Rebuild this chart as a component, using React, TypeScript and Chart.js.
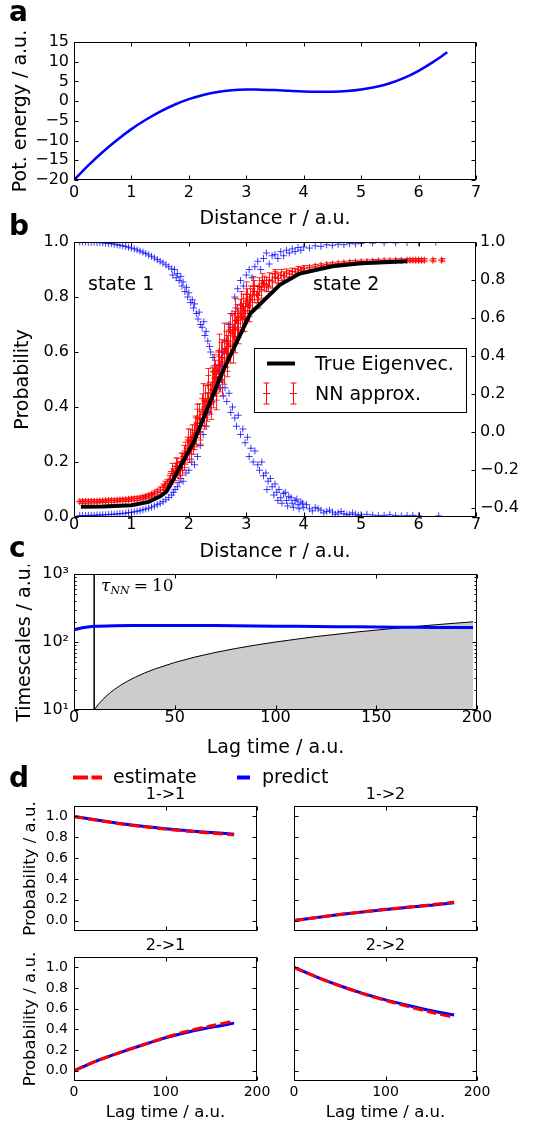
import React, { useEffect, useRef } from 'react';
import { Chart, registerables } from 'chart.js';

Chart.register(...registerables);

const FONT = 'DejaVu Sans';
const BLUE = '#0000ff';
const RED = '#ff0000';
const MINUS = '\u2212';

// ---------------- panel a : potential ----------------
const POT_R = [0, 0.25, 0.5, 0.75, 1, 1.25, 1.5, 1.75, 2, 2.25, 2.5, 2.75, 3, 3.25, 3.5, 3.75, 4, 4.25, 4.5, 4.75, 5, 5.25, 5.5, 5.75, 6, 6.25, 6.5];
const POT_E = [-20, -16.3, -12.9, -9.85, -7.1, -4.73, -2.66, -0.91, 0.5, 1.58, 2.34, 2.78, 2.95, 2.9, 2.8, 2.62, 2.47, 2.38, 2.37, 2.55, 2.95, 3.6, 4.55, 5.9, 7.7, 9.9, 12.4];
const A_XTICKS = [0, 1, 2, 3, 4, 5, 6, 7];
const A_YTICKS = [-20, -15, -10, -5, 0, 5, 10, 15];

// ---------------- panel b : eigenvector ----------------
const B_XTICKS = [0, 1, 2, 3, 4, 5, 6, 7];
const B_YTICKS = [0, 0.2, 0.4, 0.6, 0.8, 1.0];
const B_Y2TICKS = [-0.4, -0.2, 0, 0.2, 0.4, 0.6, 0.8, 1.0];
const TRUE_R = [0.12, 0.5, 1.0, 1.3, 1.5, 1.61, 2.08, 2.57, 3.07, 3.59, 3.93, 4.5, 5.0, 5.8];
const TRUE_P = [0.037, 0.038, 0.043, 0.055, 0.075, 0.092, 0.27, 0.52, 0.74, 0.845, 0.885, 0.912, 0.923, 0.93];
// NN approx: [r, p, err]
const NN_PTS = [
  [0.10, 0.056, 0.006], [0.15, 0.056, 0.006], [0.20, 0.056, 0.006], [0.25, 0.056, 0.006], [0.30, 0.057, 0.006],
  [0.35, 0.057, 0.006], [0.40, 0.057, 0.006], [0.45, 0.058, 0.006], [0.50, 0.058, 0.006], [0.55, 0.059, 0.006],
  [0.60, 0.059, 0.006], [0.65, 0.060, 0.006], [0.70, 0.060, 0.006], [0.75, 0.061, 0.006], [0.80, 0.062, 0.006],
  [0.85, 0.062, 0.006], [0.90, 0.063, 0.006], [0.95, 0.064, 0.006], [1.00, 0.065, 0.007], [1.05, 0.066, 0.007],
  [1.10, 0.067, 0.007], [1.15, 0.069, 0.007], [1.20, 0.071, 0.007], [1.25, 0.074, 0.008], [1.30, 0.077, 0.008],
  [1.35, 0.081, 0.008], [1.40, 0.086, 0.009], [1.45, 0.092, 0.009], [1.50, 0.099, 0.010],
  [1.55, 0.108, 0.012], [1.58, 0.115, 0.015], [1.62, 0.122, 0.015], [1.65, 0.130, 0.020], [1.68, 0.138, 0.020],
  [1.72, 0.150, 0.026], [1.75, 0.158, 0.026], [1.78, 0.170, 0.026], [1.80, 0.182, 0.032], [1.83, 0.176, 0.026],
  [1.86, 0.200, 0.032], [1.88, 0.192, 0.040], [1.91, 0.220, 0.040], [1.94, 0.232, 0.040], [1.97, 0.250, 0.040],
  [2.00, 0.238, 0.040], [2.02, 0.275, 0.045], [2.05, 0.290, 0.045], [2.07, 0.268, 0.040], [2.10, 0.315, 0.052],
  [2.12, 0.300, 0.045], [2.15, 0.340, 0.052], [2.18, 0.360, 0.052], [2.20, 0.332, 0.052], [2.23, 0.390, 0.058],
  [2.26, 0.372, 0.052], [2.28, 0.420, 0.058], [2.31, 0.400, 0.052], [2.34, 0.450, 0.065], [2.37, 0.432, 0.058],
  [2.40, 0.480, 0.065], [2.42, 0.462, 0.065], [2.45, 0.505, 0.065], [2.48, 0.490, 0.065], [2.50, 0.535, 0.070],
  [2.53, 0.520, 0.065], [2.56, 0.565, 0.070], [2.58, 0.580, 0.065], [2.61, 0.548, 0.065], [2.64, 0.610, 0.065],
  [2.66, 0.595, 0.065], [2.69, 0.640, 0.065], [2.72, 0.625, 0.065], [2.75, 0.670, 0.065], [2.78, 0.690, 0.058],
  [2.80, 0.655, 0.058], [2.83, 0.715, 0.058], [2.86, 0.705, 0.052], [2.89, 0.740, 0.052], [2.92, 0.725, 0.052],
  [2.95, 0.765, 0.045], [2.98, 0.750, 0.045], [3.01, 0.785, 0.045], [3.04, 0.770, 0.040], [3.07, 0.800, 0.040],
  [3.10, 0.790, 0.040], [3.14, 0.820, 0.040], [3.18, 0.810, 0.032], [3.22, 0.838, 0.032], [3.26, 0.828, 0.032],
  [3.30, 0.850, 0.026], [3.35, 0.845, 0.026], [3.40, 0.862, 0.026], [3.45, 0.858, 0.026], [3.50, 0.872, 0.020],
  [3.55, 0.868, 0.020], [3.60, 0.880, 0.020], [3.65, 0.877, 0.015], [3.70, 0.887, 0.015], [3.75, 0.884, 0.012],
  [3.80, 0.893, 0.012], [3.85, 0.891, 0.012], [3.90, 0.899, 0.012], [3.95, 0.898, 0.010], [4.00, 0.904, 0.010],
  [1.70, 0.165, 0.030], [1.77, 0.185, 0.030], [1.85, 0.170, 0.030], [1.92, 0.205, 0.035], [1.99, 0.280, 0.040],
  [2.03, 0.250, 0.040], [2.09, 0.290, 0.045], [2.14, 0.360, 0.050], [2.19, 0.310, 0.045], [2.24, 0.430, 0.055],
  [2.29, 0.380, 0.050], [2.33, 0.480, 0.060], [2.38, 0.410, 0.055], [2.43, 0.530, 0.060], [2.47, 0.450, 0.060],
  [2.52, 0.600, 0.065], [2.57, 0.500, 0.060], [2.62, 0.640, 0.065], [2.67, 0.570, 0.060], [2.71, 0.680, 0.060],
  [2.76, 0.620, 0.060], [2.81, 0.740, 0.055], [2.85, 0.680, 0.050], [2.90, 0.770, 0.050], [2.96, 0.720, 0.045],
  [3.00, 0.810, 0.045], [3.05, 0.750, 0.040], [3.12, 0.840, 0.035], [3.20, 0.790, 0.030], [3.28, 0.860, 0.025],
  [3.38, 0.840, 0.020], [3.50, 0.885, 0.015],
  [4.10, 0.908, 0.006], [4.20, 0.912, 0.006], [4.30, 0.915, 0.006], [4.40, 0.918, 0.006], [4.50, 0.920, 0.006],
  [4.60, 0.922, 0.006], [4.70, 0.924, 0.006], [4.80, 0.926, 0.006], [4.90, 0.927, 0.006], [5.00, 0.928, 0.006],
  [5.10, 0.929, 0.006], [5.20, 0.930, 0.006], [5.30, 0.931, 0.006], [5.40, 0.932, 0.006], [5.50, 0.932, 0.006],
  [5.60, 0.933, 0.006], [5.70, 0.933, 0.006], [5.80, 0.934, 0.006], [5.85, 0.934, 0.006], [5.90, 0.934, 0.006],
  [5.95, 0.934, 0.006], [6.00, 0.934, 0.006], [6.05, 0.934, 0.006], [6.10, 0.934, 0.006], [6.25, 0.934, 0.006],
  [6.40, 0.934, 0.006],
];
// membership of state 1: [r, p]
const S1_PTS = [
  [0.10, 1.000], [0.15, 1.000], [0.20, 1.000], [0.25, 0.999], [0.30, 0.999], [0.35, 0.999], [0.40, 0.998], [0.45, 0.998],
  [0.50, 0.997], [0.55, 0.996], [0.60, 0.995], [0.65, 0.994], [0.70, 0.992], [0.75, 0.990], [0.80, 0.988], [0.85, 0.986],
  [0.90, 0.984], [0.95, 0.981], [1.00, 0.978], [1.05, 0.975], [1.10, 0.971], [1.15, 0.967], [1.20, 0.963], [1.25, 0.958],
  [1.30, 0.953], [1.35, 0.948], [1.40, 0.942], [1.45, 0.936], [1.50, 0.930], [1.55, 0.924], [1.60, 0.917], [1.65, 0.910],
  [1.70, 0.902], [1.72, 0.880], [1.75, 0.900], [1.78, 0.870], [1.80, 0.885], [1.83, 0.860], [1.86, 0.875], [1.88, 0.840],
  [1.90, 0.855], [1.93, 0.820], [1.96, 0.835], [1.98, 0.800], [2.00, 0.815], [2.03, 0.780], [2.06, 0.790], [2.08, 0.760],
  [2.10, 0.775], [2.13, 0.740], [2.16, 0.720], [2.18, 0.745], [2.20, 0.700], [2.23, 0.690], [2.26, 0.710], [2.28, 0.660],
  [2.30, 0.675], [2.33, 0.640], [2.36, 0.620], [2.38, 0.600], [2.42, 0.580], [2.45, 0.550], [2.48, 0.520], [2.50, 0.500],
  [2.53, 0.530], [2.55, 0.470], [2.58, 0.490], [2.60, 0.440], [2.63, 0.470], [2.66, 0.420], [2.70, 0.450], [2.73, 0.380],
  [2.76, 0.400], [2.80, 0.360], [2.83, 0.330], [2.86, 0.370], [2.90, 0.300], [2.94, 0.320], [2.98, 0.270], [3.02, 0.290],
  [3.05, 0.220], [3.08, 0.250], [3.12, 0.200], [3.15, 0.240], [3.20, 0.190], [3.23, 0.170], [3.27, 0.200], [3.30, 0.150],
  [3.34, 0.160], [3.38, 0.130], [3.42, 0.140], [3.45, 0.110], [3.50, 0.120], [3.53, 0.090], [3.57, 0.100], [3.60, 0.070],
  [3.65, 0.085], [3.70, 0.060], [3.74, 0.075], [3.80, 0.050], [3.85, 0.060], [3.90, 0.045], [3.95, 0.055], [4.00, 0.035],
  [4.05, 0.045], [4.10, 0.030], [4.20, 0.035], [4.30, 0.025], [4.40, 0.020], [4.50, 0.018], [4.60, 0.015], [4.70, 0.012],
  [4.80, 0.010], [4.90, 0.010], [5.00, 0.008], [5.20, 0.007], [5.40, 0.006], [5.60, 0.005], [5.80, 0.005], [6.00, 0.004],
  [6.35, 0.004], [3.36, 0.100], [3.48, 0.080], [3.55, 0.060], [3.62, 0.050], [3.68, 0.090], [3.72, 0.040], [3.78, 0.070],
  [3.82, 0.035], [3.88, 0.065], [3.92, 0.030], [3.98, 0.050], [4.15, 0.022], [4.25, 0.030], [4.35, 0.015], [4.45, 0.025],
  [4.55, 0.010], [4.65, 0.020], [4.75, 0.008], [4.85, 0.015], [4.95, 0.006], [5.10, 0.010], [5.30, 0.005], [5.50, 0.008],
  [5.70, 0.004], [5.90, 0.006],
];
// membership of state 2: [r, p]
const S2_PTS = [
  [0.10, 0.005], [0.15, 0.005], [0.20, 0.005], [0.25, 0.006], [0.30, 0.006], [0.35, 0.006], [0.40, 0.007], [0.45, 0.007],
  [0.50, 0.008], [0.55, 0.008], [0.60, 0.009], [0.65, 0.010], [0.70, 0.010], [0.75, 0.011], [0.80, 0.012], [0.85, 0.013],
  [0.90, 0.014], [0.95, 0.016], [1.00, 0.017], [1.05, 0.019], [1.10, 0.021], [1.15, 0.023], [1.20, 0.026], [1.25, 0.029],
  [1.30, 0.032], [1.35, 0.036], [1.40, 0.040], [1.45, 0.045], [1.50, 0.050], [1.55, 0.056], [1.60, 0.063], [1.65, 0.071],
  [1.70, 0.080], [1.73, 0.090], [1.76, 0.100], [1.80, 0.110], [1.83, 0.125], [1.86, 0.140], [1.90, 0.130], [1.95, 0.160],
  [2.00, 0.170], [2.05, 0.200], [2.10, 0.190], [2.15, 0.220], [2.20, 0.260], [2.25, 0.300], [2.30, 0.330], [2.35, 0.380],
  [2.40, 0.420], [2.45, 0.460], [2.50, 0.500], [2.55, 0.550], [2.60, 0.600], [2.65, 0.640], [2.70, 0.700], [2.75, 0.740],
  [2.80, 0.800], [2.82, 0.760], [2.85, 0.830], [2.90, 0.860], [2.95, 0.840], [3.00, 0.880], [3.05, 0.900], [3.10, 0.870],
  [3.15, 0.910], [3.20, 0.930], [3.25, 0.900], [3.30, 0.940], [3.35, 0.960], [3.40, 0.920], [3.45, 0.950], [3.50, 0.955],
  [3.55, 0.940], [3.60, 0.965], [3.65, 0.950], [3.70, 0.970], [3.75, 0.960], [3.80, 0.975], [3.85, 0.965], [3.90, 0.980],
  [3.95, 0.970], [4.00, 0.982], [4.10, 0.978], [4.20, 0.986], [4.30, 0.984], [4.40, 0.990], [4.50, 0.988], [4.60, 0.992],
  [4.70, 0.990], [4.80, 0.994], [4.90, 0.993], [5.00, 0.995], [5.20, 0.996], [5.40, 0.997], [5.60, 0.997], [5.80, 0.998],
  [6.00, 0.998], [6.30, 0.999],
];

// ---------------- panel c : implied timescales ----------------
const C_XTICKS = [0, 50, 100, 150, 200];
const C_YTICKS = [10, 20, 30, 40, 50, 60, 70, 80, 90, 100, 200, 300, 400, 500, 600, 700, 800, 900, 1000];
const C_YMINOR = [20, 30, 40, 50, 60, 70, 80, 90, 200, 300, 400, 500, 600, 700, 800, 900];
const C_YLABELS: Record<number, string> = { 10: '10\u00b9', 100: '10\u00b2', 1000: '10\u00b3' };
const ITS_LAG = [0, 5, 10, 20, 30, 40, 60, 80, 100, 120, 140, 160, 180, 198];
const ITS_TS = [152, 163, 170, 174, 175, 175, 175, 173, 171, 169, 167, 165, 164, 164];
const DIAG_LAG = [10, 11, 12, 13, 14, 16, 18, 20, 23, 26, 30, 35, 40, 50, 60, 70, 80, 90, 100, 120, 140, 160, 180, 198];
const DIAG_TS = [10, 11, 12, 13, 14, 16, 18, 20, 23, 26, 30, 35, 40, 50, 60, 70, 80, 90, 100, 120, 140, 160, 180, 198];
const TAU_NN = 10;

// ---------------- panel d : Chapman-Kolmogorov ----------------
const D_LAG = [0, 25, 50, 75, 100, 125, 150, 175];
const D_XTICKS = [0, 100, 200];
const D_YTICKS = [0, 0.2, 0.4, 0.6, 0.8, 1.0];
const CK11_EST = [1.0, 0.963, 0.93, 0.902, 0.878, 0.858, 0.84, 0.822];
const CK11_PRED = [1.0, 0.965, 0.933, 0.905, 0.882, 0.862, 0.845, 0.83];
const CK12_EST = [0.0, 0.03, 0.058, 0.084, 0.108, 0.13, 0.152, 0.178];
const CK12_PRED = [0.0, 0.03, 0.058, 0.083, 0.106, 0.127, 0.148, 0.17];
const CK21_EST = [0.0, 0.095, 0.175, 0.25, 0.322, 0.385, 0.435, 0.48];
const CK21_PRED = [0.0, 0.095, 0.174, 0.248, 0.318, 0.375, 0.42, 0.46];
const CK22_EST = [1.0, 0.905, 0.82, 0.745, 0.68, 0.62, 0.565, 0.515];
const CK22_PRED = [1.0, 0.905, 0.822, 0.748, 0.685, 0.63, 0.58, 0.538];

// ---------------- helpers ----------------
const fmt = (d: number) => (v: number) => (v < 0 ? MINUS : '') + Math.abs(v).toFixed(d);
const pts = (xs: number[], ys: number[]) => xs.map((x, i) => ({ x, y: ys[i] }));
const pairs = (arr: number[][]) => arr.map((p) => ({ x: p[0], y: p[1] }));

function framePlugin(sides: Record<string, string[]>, minor: Record<string, number[]> = {}) {
  return {
    id: 'frame',
    afterDraw(chart: any) {
      const { ctx, chartArea: ca } = chart;
      const L = Math.round(ca.left) + 0.5, R = Math.round(ca.right) - 0.5;
      const T = Math.round(ca.top) + 0.5, B = Math.round(ca.bottom) - 0.5;
      ctx.save();
      ctx.strokeStyle = '#000';
      ctx.lineWidth = 1;
      ctx.beginPath();
      for (const id of Object.keys(sides)) {
        const s = chart.scales[id];
        if (!s) continue;
        const mins = minor[id] || [];
        for (const t of s.ticks) {
          const p = Math.round(s.getPixelForValue(t.value)) + 0.5;
          const len = mins.includes(t.value) ? 2 : 4;
          for (const side of sides[id]) {
            if (side === 'bottom') { ctx.moveTo(p, B); ctx.lineTo(p, B - len); }
            if (side === 'top') { ctx.moveTo(p, T); ctx.lineTo(p, T + len); }
            if (side === 'left') { ctx.moveTo(L, p); ctx.lineTo(L + len, p); }
            if (side === 'right') { ctx.moveTo(R, p); ctx.lineTo(R - len, p); }
          }
        }
      }
      ctx.stroke();
      ctx.strokeRect(L, T, R - L, B - T);
      ctx.restore();
    },
  };
}

const errorBarPlugin = {
  id: 'errorBars',
  beforeDatasetDraw(chart: any, args: any) {
    const ds = chart.data.datasets[args.index];
    if (!ds.errors) return;
    const xs = chart.scales[args.meta.xAxisID];
    const ys = chart.scales[args.meta.yAxisID];
    const ctx = chart.ctx;
    const ca = chart.chartArea;
    ctx.save();
    ctx.beginPath();
    ctx.rect(ca.left, ca.top, ca.right - ca.left, ca.bottom - ca.top);
    ctx.clip();
    ctx.strokeStyle = ds.errorColor;
    ctx.lineWidth = 1;
    ctx.beginPath();
    ds.data.forEach((d: any, i: number) => {
      const x = Math.round(xs.getPixelForValue(d.x)) + 0.5;
      const y0 = ys.getPixelForValue(d.y - ds.errors[i]);
      const y1 = ys.getPixelForValue(d.y + ds.errors[i]);
      ctx.moveTo(x, y0); ctx.lineTo(x, y1);
      ctx.moveTo(x - 3, y0); ctx.lineTo(x + 3, y0);
      ctx.moveTo(x - 3, y1); ctx.lineTo(x + 3, y1);
    });
    ctx.stroke();
    ctx.restore();
  },
};

function axis(o: any) {
  const horizontal = o.position === 'bottom' || o.position === 'top';
  return {
    type: o.type || 'linear',
    position: o.position,
    min: o.min,
    max: o.max,
    grid: { display: false, drawTicks: false },
    border: { display: false },
    afterBuildTicks: (s: any) => { s.ticks = o.ticks.map((v: number) => ({ value: v })); },
    afterFit: (s: any) => {
      if (horizontal) s.height = o.size; else s.width = o.size;
      s.paddingLeft = 0; s.paddingRight = 0; s.paddingTop = 0; s.paddingBottom = 0;
    },
    ticks: {
      autoSkip: false, maxRotation: 0, minRotation: 0,
      padding: o.tickPad, color: '#000',
      font: { family: FONT, size: o.tickSize, lineHeight: 1 },
      callback: (v: number) => o.label(v),
    },
    title: o.title
      ? { display: true, text: o.title, color: '#000', font: { family: FONT, size: o.titleSize, lineHeight: 1.2 }, padding: o.titlePad }
      : { display: false },
  };
}

const base = (padding: any) => ({
  responsive: false,
  animation: false,
  devicePixelRatio: 1,
  events: [],
  layout: { padding, autoPadding: false },
  plugins: { legend: { display: false }, tooltip: { enabled: false }, title: { display: false } },
});

const cfgA = () => ({
  type: 'line',
  data: { datasets: [{ data: pts(POT_R, POT_E), borderColor: BLUE, borderWidth: 2.5, pointRadius: 0, tension: 0.4, fill: false }] },
  options: {
    ...base({ top: 42, right: 60, left: 0, bottom: 0 }),
    scales: {
      x: axis({ position: 'bottom', min: 0, max: 7, ticks: A_XTICKS, label: (v: number) => String(v), size: 52, tickPad: 5, tickSize: 16, title: 'Distance r / a.u.', titleSize: 19, titlePad: { top: 0, bottom: 1.6 } }),
      y: axis({ position: 'left', min: -20, max: 15, ticks: A_YTICKS, label: fmt(0), size: 74, tickPad: 5, tickSize: 16, title: 'Pot. energy / a.u.', titleSize: 19, titlePad: { top: 9.6, bottom: 0 } }),
    },
  },
  plugins: [framePlugin({ x: ['bottom', 'top'], y: ['left', 'right'] })],
});

const cfgB = () => ({
  type: 'line',
  data: {
    datasets: [
      { data: pts(TRUE_R, TRUE_P), borderColor: '#000', borderWidth: 4, pointRadius: 0, tension: 0, order: 0 },
      {
        data: pairs(NN_PTS), errors: NN_PTS.map((p) => p[2]), errorColor: 'rgba(255,0,0,0.85)',
        showLine: false, pointStyle: 'cross', pointRadius: 3.5, pointBorderWidth: 1,
        borderColor: RED, pointBorderColor: RED, order: 1, clip: 0,
      },
      { data: pairs(S1_PTS), showLine: false, pointStyle: 'cross', pointRadius: 3.5, pointBorderWidth: 1, borderColor: 'rgba(0,0,255,0.75)', pointBorderColor: 'rgba(0,0,255,0.75)', order: 2, clip: 0 },
      { data: pairs(S2_PTS), showLine: false, pointStyle: 'cross', pointRadius: 3.5, pointBorderWidth: 1, borderColor: 'rgba(0,0,255,0.75)', pointBorderColor: 'rgba(0,0,255,0.75)', order: 3, clip: 0 },
    ],
  },
  options: {
    ...base({ top: 10, right: 0, left: 0, bottom: 0 }),
    scales: {
      x: axis({ position: 'bottom', min: 0, max: 7, ticks: B_XTICKS, label: (v: number) => String(v), size: 48, tickPad: 0, tickSize: 16, title: 'Distance r / a.u.', titleSize: 19, titlePad: { top: 0, bottom: 1.6 } }),
      y: axis({ position: 'left', min: 0, max: 1, ticks: B_YTICKS, label: fmt(1), size: 74, tickPad: 5, tickSize: 16, title: 'Probability', titleSize: 19, titlePad: { top: 11.6, bottom: 0 } }),
      y2: axis({ position: 'right', min: -0.45, max: 1.0, ticks: B_Y2TICKS, label: fmt(1), size: 60, tickPad: 4, tickSize: 16 }),
    },
  },
  plugins: [errorBarPlugin, framePlugin({ x: ['bottom', 'top'], y: ['left'], y2: ['right'] })],
});

const cfgC = () => ({
  type: 'line',
  data: {
    datasets: [
      { data: pts(ITS_LAG, ITS_TS), borderColor: BLUE, borderWidth: 3, pointRadius: 0, tension: 0.3, order: 0 },
      { data: [{ x: TAU_NN, y: 10 }, { x: TAU_NN, y: 1000 }], borderColor: '#000', borderWidth: 1.5, pointRadius: 0, order: 1 },
      { data: pts(DIAG_LAG, DIAG_TS), borderColor: '#000', borderWidth: 1, pointRadius: 0, fill: 'start', backgroundColor: '#cccccc', order: 2 },
    ],
  },
  options: {
    ...base({ top: 9, right: 59, left: 0, bottom: 0 }),
    scales: {
      x: axis({ position: 'bottom', min: 0, max: 200, ticks: C_XTICKS, label: (v: number) => String(v), size: 52, tickPad: 0, tickSize: 16, title: 'Lag time / a.u.', titleSize: 19, titlePad: { top: 0, bottom: 2.6 } }),
      y: axis({ type: 'logarithmic', position: 'left', min: 10, max: 1000, ticks: C_YTICKS, label: (v: number) => C_YLABELS[v] || '', size: 74, tickPad: 5, tickSize: 16, title: 'Timescales / a.u.', titleSize: 19, titlePad: { top: 14, bottom: 0 } }),
    },
  },
  plugins: [framePlugin({ x: ['bottom', 'top'], y: ['left', 'right'] }, { y: C_YMINOR })],
});

function cfgD(title: string, est: number[], pred: number[], left: boolean, bottom: boolean) {
  return () => ({
    type: 'line',
    data: {
      datasets: [
        { data: pts(D_LAG, est), borderColor: RED, borderWidth: 3, borderDash: [10, 4], pointRadius: 0, tension: 0.3, order: 0 },
        { data: pts(D_LAG, pred), borderColor: BLUE, borderWidth: 3, pointRadius: 0, tension: 0.3, order: 1 },
      ],
    },
    options: {
      ...base({ top: 0, right: 0, left: 0, bottom: 0 }),
      plugins: {
        legend: { display: false },
        tooltip: { enabled: false },
        title: { display: true, text: title, color: '#000', font: { family: FONT, size: 16, weight: 'normal', lineHeight: 1.2 }, padding: { top: 1.4, bottom: 1.4 } },
      },
      scales: {
        x: axis({ position: 'bottom', min: 0, max: 200, ticks: D_XTICKS, label: bottom ? (v: number) => String(v) : () => '', size: bottom ? 46 : 12, tickPad: 4.5, tickSize: 14, title: bottom ? 'Lag time / a.u.' : undefined, titleSize: 16.5, titlePad: { top: 0, bottom: 4.1 } }),
        y: axis({ position: 'left', min: -0.1, max: 1.1, ticks: D_YTICKS, label: left ? fmt(1) : () => '', size: 74, tickPad: 6, tickSize: 14, title: left ? 'Probability / a.u.' : undefined, titleSize: 16.5, titlePad: { top: 21.1, bottom: 0 } }),
        yR: axis({ position: 'right', min: -0.1, max: 1.1, ticks: D_YTICKS, label: () => '', size: 74, tickPad: 0, tickSize: 14 }),
      },
    },
    plugins: [framePlugin({ x: ['bottom', 'top'], y: ['left', 'right'] })],
  });
}

function ChartCanvas({ x, y, w, h, make }: any) {
  const ref = useRef<HTMLCanvasElement>(null);
  useEffect(() => {
    const chart = new Chart(ref.current as HTMLCanvasElement, make());
    return () => chart.destroy();
  }, []);
  return <canvas ref={ref} width={w} height={h} style={{ position: 'absolute', left: x, top: y, width: w, height: h }} />;
}

function ErrGlyph({ x, y }: { x: number; y: number }) {
  return (
    <g stroke={RED} strokeWidth={1}>
      <line x1={x} x2={x} y1={y - 10.5} y2={y + 10.5} />
      <line x1={x - 3} x2={x + 3} y1={y - 10.5} y2={y - 10.5} />
      <line x1={x - 3} x2={x + 3} y1={y + 10.5} y2={y + 10.5} />
      <line x1={x - 3.5} x2={x + 3.5} y1={y} y2={y} />
    </g>
  );
}

export default function App() {
  return (
    <div style={{ position: 'absolute', left: 0, top: 0, width: 536, height: 1127, overflow: 'hidden', background: '#fff' }}>
      <ChartCanvas x={0} y={0} w={536} h={232} make={cfgA} />
      <ChartCanvas x={0} y={232} w={536} h={333} make={cfgB} />
      <ChartCanvas x={0} y={565} w={536} h={197} make={cfgC} />
      <ChartCanvas x={0} y={784} w={331} h={159} make={cfgD('1->1', CK11_EST, CK11_PRED, true, false)} />
      <ChartCanvas x={220} y={784} w={331} h={159} make={cfgD('1->2', CK12_EST, CK12_PRED, false, false)} />
      <ChartCanvas x={0} y={935} w={331} h={192} make={cfgD('2->1', CK21_EST, CK21_PRED, true, true)} />
      <ChartCanvas x={220} y={935} w={331} h={192} make={cfgD('2->2', CK22_EST, CK22_PRED, false, true)} />
      <svg width={536} height={1127} style={{ position: 'absolute', left: 0, top: 0, pointerEvents: 'none' }} fontFamily={FONT}>
        <g fontSize={28} fontWeight="bold" fill="#000">
          <text x={9} y={21}>a</text>
          <text x={9} y={235}>b</text>
          <text x={9} y={557}>c</text>
          <text x={9} y={787}>d</text>
        </g>
        <g fontSize={19} fill="#000">
          <text x={88} y={290}>state 1</text>
          <text x={313} y={290}>state 2</text>
        </g>
        <rect x={254.5} y={348.5} width={212} height={64} fill="#fff" stroke="#000" strokeWidth={1} />
        <line x1={267} x2={295} y1={363.5} y2={363.5} stroke="#000" strokeWidth={4} />
        <text x={315} y={370} fontSize={19} fill="#000">True Eigenvec.</text>
        <ErrGlyph x={266.5} y={393.5} />
        <ErrGlyph x={293.5} y={393.5} />
        <text x={315} y={400} fontSize={19} fill="#000">NN approx.</text>
        <text x={101} y={591} fontFamily="DejaVu Serif" fontSize={17} fill="#000">
          <tspan fontStyle="italic">τ</tspan>
          <tspan fontStyle="italic" fontSize={11} dy={3}>NN</tspan>
          <tspan dy={-3} dx={4}>=</tspan>
          <tspan dx={4}>10</tspan>
        </text>
        <line x1={73} x2={102} y1={777.5} y2={777.5} stroke={RED} strokeWidth={4} strokeDasharray="15 3.5" />
        <text x={113} y={783} fontSize={19} fill="#000">estimate</text>
        <line x1={237} x2={250} y1={777.5} y2={777.5} stroke={BLUE} strokeWidth={4} />
        <text x={262} y={783} fontSize={19} fill="#000">predict</text>
      </svg>
    </div>
  );
}
